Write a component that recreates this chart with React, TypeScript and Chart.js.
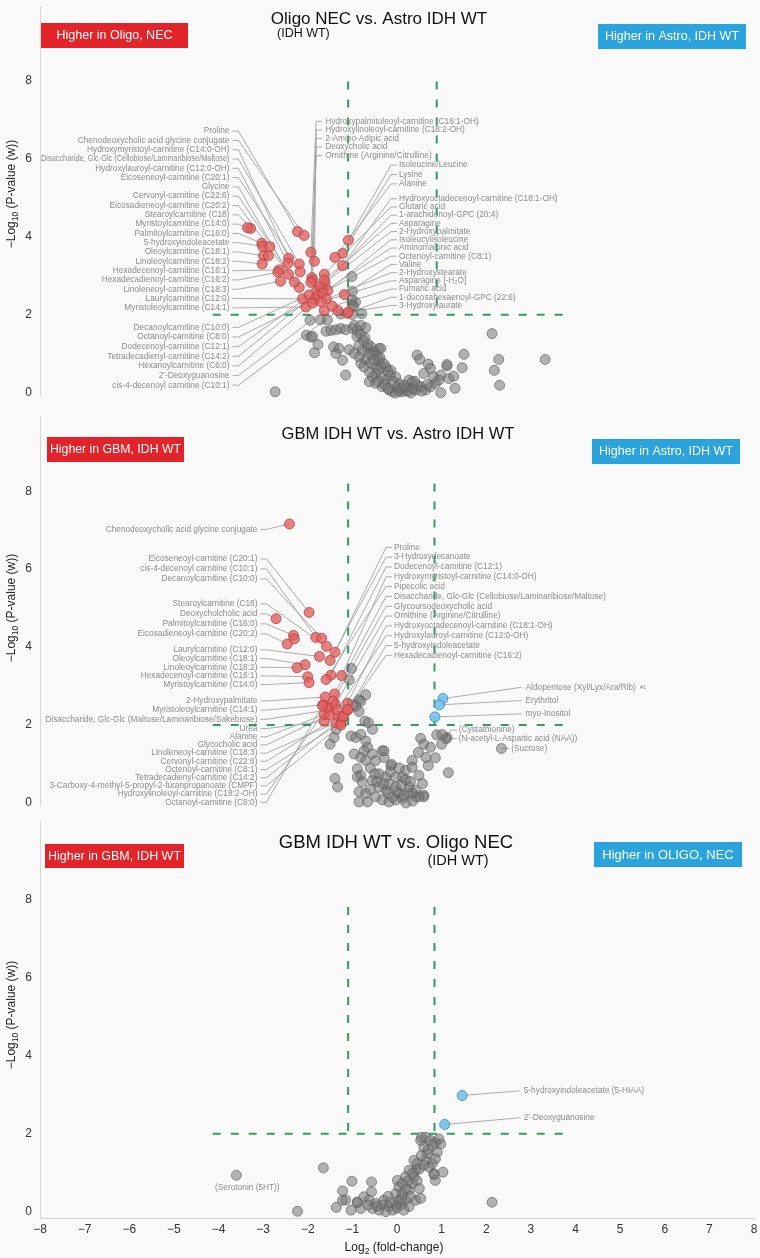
import React, { useEffect, useRef } from "react";
import { Chart, registerables } from "chart.js";
Chart.register(...registerables);

type Pt = [number, number];
type Lab = [string, number, number];

const FONT = '"Liberation Sans", Arial, Helvetica, sans-serif';

// ---------- axis ticks ----------
const X_TICKS = [-8, -7, -6, -5, -4, -3, -2, -1, 0, 1, 2, 3, 4, 5, 6, 7, 8];
const Y_TICKS = [0, 2, 4, 6, 8];

// ---------- thresholds ----------
const P_CUT = 2;
const H_FROM = -4.13;
const H_TO = 3.8;
const FC_LOW = -1.095;

// ================= PANEL 1 : Oligo NEC vs Astro IDH WT =================
const P1_LEFT_UPPER: Lab[] = [
  ["Proline", -2.23, 4.13],
  ["Chenodeoxycholic acid glycine conjugate", -2.08, 4.03],
  ["Hydroxymyristoyl-carnitine (C14:0-OH)", -2.43, 3.45],
  ["Disaccharide, Glc-Glc (Cellobiose/Laminaribiose/Maltose)", -2.19, 3.3],
  ["Hydroxylauroyl-carnitine (C12:0-OH)", -2.44, 3.32],
  ["Eicoseneoyl-carnitine (C20:1)", -2.17, 3.1],
  ["Glycine", -2.43, 3.04],
  ["Cervonyl-carnitine (C22:6)", -2.19, 2.7],
  ["Eicosadieneoyl-carnitine (C20:2)", -2.3, 2.84],
  ["Stearoylcarnitine (C18)", -3.28, 4.21],
  ["Myristoylcarnitine (C14:0)", -3.35, 4.23],
  ["Palmitoylcarnitine (C16:0)", -3.03, 3.83],
  ["5-hydroxyindoleacetate", -3.01, 3.75],
  ["Oleoylcarnitine (C18:1)", -2.99, 3.51],
  ["Linoleoylcarnitine (C18:2)", -3.02, 3.3],
  ["Hexadecenoyl-carnitine (C16:1)", -2.64, 3.15],
  ["Hexadecadienoyl-carnitine (C16:2)", -2.67, 3.09],
  ["Linoleneoyl-carnitine (C18:3)", -2.61, 2.86],
  ["Laurylcarnitine (C12:0)", -2.12, 2.41],
  ["Myristoleoylcarnitine (C14:1)", -2.04, 2.2],
];
const P1_LEFT_LOWER: Lab[] = [
  ["Decanoylcarnitine (C10:0)", -1.97, 2.51],
  ["Octanoyl-carnitine (C8:0)", -1.85, 2.39],
  ["Dodecenoyl-carnitine (C12:1)", -1.8, 2.62],
  ["Tetradecadienyl-carnitine (C14:2)", -1.67, 2.69],
  ["Hexanoylcarnitine (C6:0)", -1.9, 2.3],
  ["2'-Deoxyguanosine", -1.63, 2.11],
  ["cis-4-decenoyl carnitine (C10:1)", -1.33, 2.11],
];
const P1_TOP: Lab[] = [
  ["Hydroxypalmitoleoyl-carnitine (C16:1-OH)", -1.93, 3.6],
  ["Hydroxylinoleoyl-carnitine (C18:2-OH)", -1.85, 3.37],
  ["2-Amino-Adipic acid", -1.91, 2.95],
  ["Deoxycholic acid", -1.89, 2.89],
  ["Ornithine (Arginine/Citrulline)", -1.93, 2.83],
];
const P1_RIGHT_A: Lab[] = [
  ["Isoleucine/Leucine", -1.09, 3.91],
  ["Lysine", -1.22, 3.57],
  ["Alanine", -1.39, 3.47],
];
const P1_RIGHT_B: Lab[] = [
  ["Hydroxyoctadecenoyl-carnitine (C18:1-OH)", -1.22, 3.26],
  ["Glutaric acid", -1.63, 3.04],
  ["1-arachidonoyl-GPC (20:4)", -1.61, 2.81],
  ["Asparagine", -1.63, 2.89],
  ["2-Hydroxypalmitate", -1.72, 2.72],
  ["Isoleucylisoleucine", -1.55, 2.62],
  ["Aminomalonic acid", -1.76, 2.5],
  ["Octenoyl-carnitine (C8:1)", -1.66, 2.56],
  ["Valine", -1.18, 2.52],
  ["2-Hydroxystearate", -1.58, 2.4],
  ["Asparagine [-H\u2082O]", -1.7, 2.33],
  ["Fumaric acid", -1.45, 2.22],
  ["1-docosahexaenoyl-GPC (22:6)", -1.11, 2.04],
  ["3-Hydroxylaurate", -1.09, 2.07],
];
const P1_RED_EXTRA: Pt[] = [[-2.85, 3.74], [-2.88, 3.51]];
const P1_GRAY: Pt[] = [
  [-1.01, 2.98], [-1.0, 2.6], [-0.93, 2.33], [-1.0, 2.25], [-0.97, 2.22], [-0.79, 2.03], [-1.01, 2.39], [-1.26, 2.02], [-1.0, 2.01],
  [-1.95, 1.86], [-1.71, 1.87], [-1.56, 1.87],
  [-1.59, 1.58], [-1.48, 1.6], [-1.37, 1.62], [-1.26, 1.65], [-1.15, 1.62], [-1.0, 1.65], [-0.89, 1.6], [-0.96, 1.73], [-0.81, 1.73], [-0.7, 1.67],
  [-2.03, 1.48], [-1.93, 1.43], [-1.89, 1.45], [-1.77, 1.24], [-1.85, 1.03],
  [-1.42, 1.18], [-1.3, 1.14], [-1.37, 1.01], [-1.07, 1.11], [-1.22, 0.84], [-1.15, 0.46], [-2.73, 0.03],
  [-0.85, 1.22], [-0.78, 1.09], [-0.66, 1.14], [-0.55, 1.01], [-0.4, 1.14], [-0.7, 0.84], [-0.59, 0.76], [-0.48, 0.67], [-0.4, 0.84], [-0.81, 0.76], [-0.96, 1.01], [-0.36, 1.14],
  [-0.48, 0.5], [-0.36, 0.41], [-0.25, 0.33], [-0.33, 0.16], [-0.18, 0.08], [-0.1, 0.03], [-0.03, 0.0], [0.12, 0.03], [0.19, 0.08], [0.31, 0.0], [0.42, 0.08], [0.53, 0.16], [0.64, 0.08], [0.75, 0.16], [0.86, 0.25], [0.98, 0.01], [0.98, 0.46], [1.12, 0.69], [1.16, 0.37], [1.27, 0.43], [1.3, 0.12], [1.46, 0.65], [1.5, 0.99], [0.45, 0.97], [0.51, 0.86], [0.7, 0.74], [0.75, 0.63], [1.12, 0.73],
  [2.13, 1.52], [2.28, 0.86], [2.18, 0.58], [2.3, 0.2], [3.32, 0.86],
  [0.27, 0.33], [0.04, 0.25], [-0.03, 0.41], [-0.14, 0.58], [-0.25, 0.67], [-0.36, 0.67], [-0.55, 0.41], [-0.62, 0.54], [-0.74, 0.67], [-0.85, 0.93], [-0.62, 0.29], [-0.48, 0.25], [0.6, 0.5], [0.34, 0.29], [0.82, 0.41], [0.94, 0.33],
  [-0.75, 1.35], [-0.65, 1.25], [-0.58, 1.18], [-0.5, 1.05], [-0.45, 0.95], [-0.38, 0.9], [-0.3, 0.75], [-0.2, 0.55], [-0.15, 0.45], [-0.1, 0.3], [0.0, 0.15], [0.05, 0.05], [0.2, 0.15], [0.25, 0.05], [0.35, 0.12], [0.45, 0.2], [0.55, 0.05], [0.68, 0.22], [-0.42, 0.3], [-0.28, 0.22], [-0.2, 0.12],
  [-0.9, 1.45], [-0.82, 1.5], [-0.72, 1.42], [-0.62, 1.0], [-0.52, 0.85], [-0.4, 0.6], [0.1, 0.12], [0.4, 0.3], [0.15, 0.2],
];

// ================= PANEL 2 : GBM IDH WT vs Astro IDH WT =================
const P2_CHENO: Lab[] = [["Chenodeoxycholic acid glycine conjugate", -2.41, 7.16]];
const P2_LEFT_A: Lab[] = [
  ["Eicoseneoyl-carnitine (C20:1)", -1.97, 4.89],
  ["cis-4-decenoyl carnitine (C10:1)", -1.82, 4.25],
  ["Decanoylcarnitine (C10:0)", -1.69, 4.23],
];
const P2_LEFT_B: Lab[] = [
  ["Stearoylcarnitine (C18)", -1.58, 4.02],
  ["Deoxycholcholic acid", -2.71, 4.73],
  ["Palmitoylcarnitine (C16:0)", -2.32, 4.3],
  ["Eicosadieneoyl-carnitine (C20:2)", -2.46, 4.08],
];
const P2_LEFT_C: Lab[] = [
  ["Laurylcarnitine (C12:0)", -1.74, 3.76],
  ["Oleoylcarnitine (C18:1)", -2.06, 3.55],
  ["Linoleoylcarnitine (C18:2)", -2.24, 3.47],
  ["Hexadecenoyl-carnitine (C16:1)", -2.0, 3.24],
  ["Myristoylcarnitine (C14:0)", -1.97, 3.09],
];
const P2_LEFT_D: Lab[] = [
  ["2-Hydroxypalmitate", -1.61, 2.72],
  ["Myristoleoylcarnitine (C14:1)", -1.65, 2.52],
  ["Disaccharide, Glc-Glc (Maltose/Laminaribiose/Sakebiose)", -1.52, 2.39],
];
const P2_LEFT_E: Lab[] = [
  ["Urea", -1.63, 2.1],
  ["Alanine", -1.63, 2.27],
  ["Glycocholic acid", -1.52, 2.27],
  ["Linoleneoyl-carnitine (C18:3)", -1.37, 2.06],
  ["Cervonyl-carnitine (C22:6)", -1.31, 2.23],
  ["Octenoyl-carnitine (C8:1)", -1.25, 2.06],
  ["Tetradecadienyl-carnitine (C14:2)", -1.22, 2.19],
  ["3-Carboxy-4-methyl-5-propyl-2-furanpropanoate (CMPF)", -1.26, 2.0],
  ["Hydroxylinoleoyl-carnitine (C18:2-OH)", -1.56, 2.46],
  ["Octanoyl-carnitine (C8:0)", -1.67, 2.5],
];
const P2_RIGHT: Lab[] = [
  ["Proline", -1.39, 3.87],
  ["3-Hydroxydecanoate", -1.5, 3.66],
  ["Dodecenoyl-carnitine (C12:1)", -1.48, 3.28],
  ["Hydroxymyristoyl-carnitine (C14:0-OH)", -1.24, 3.27],
  ["Pipecolic acid", -1.59, 3.17],
  ["Disaccharide, Glc-Glc (Cellobiose/Laminaribiose/Maltose)", -1.4, 2.8],
  ["Glycoursodeoxycholic acid", -1.43, 2.62],
  ["Ornithine (Arginine/Citrulline)", -1.38, 2.52],
  ["Hydroxyoctadecenoyl-carnitine (C18:1-OH)", -1.11, 2.56],
  ["Hydroxylauroyl-carnitine (C12:0-OH)", -1.33, 2.39],
  ["5-hydroxyindoleacetate", -1.1, 2.39],
  ["Hexadecadienoyl-carnitine (C16:2)", -1.2, 2.23],
];
const P2_RED_EXTRA: Pt[] = [[-2.3, 4.21], [-1.11, 2.4]];
const P2_BLUE: Lab[] = [
  ["Aldopentose (Xyl/Lyx/Ara/Rib)|#1", 1.03, 2.68],
  ["Erythritol", 0.95, 2.52],
  ["myo-Inositol", 0.85, 2.21],
];
const P2_GRAY_LAB: Lab[] = [
  ["(Cystathionine)", 1.12, 1.68],
  ["(N-acetyl-L-Aspartic acid (NAA))", 1.1, 1.65],
];
const P2_SUCROSE: Lab[] = [["(Sucrose)", 2.34, 1.4]];
const P2_GRAY: Pt[] = [
  [-1.02, 3.45], [-1.07, 3.16], [-0.7, 2.78], [-0.85, 2.65], [-0.81, 2.61], [-0.92, 2.48], [-0.99, 2.52], [-0.85, 2.35], [-0.72, 2.1], [-0.64, 2.06], [-0.55, 1.89],
  [-1.36, 1.89], [-1.41, 1.68], [-1.5, 1.51],
  [-1.03, 1.72], [-0.92, 1.68], [-0.81, 1.76], [-0.7, 1.59], [-0.66, 1.43], [-0.74, 1.34], [-0.96, 1.26], [-0.81, 1.17], [-0.7, 1.09], [-0.55, 1.26], [-0.48, 1.09], [-0.33, 1.34], [-0.29, 1.17], [-0.14, 0.96],
  [-1.3, 1.15], [-1.39, 0.63], [-1.33, 0.41],
  [-0.89, 0.88], [-0.81, 0.71], [-0.89, 0.67], [-0.78, 0.54], [-0.85, 0.29], [-0.7, 0.25], [-0.85, 0.03], [-0.66, 0.03], [-0.48, 0.16], [-0.33, 0.08], [-0.18, 0.03], [-0.03, 0.08], [0.12, 0.12], [0.27, 0.25], [0.42, 0.33], [0.57, 0.5], [0.6, 0.2], [0.42, 0.16], [0.27, 0.41], [0.12, 0.67], [0.19, 0.84], [0.34, 1.09],
  [0.53, 1.66], [0.6, 1.51], [0.75, 1.43], [1.0, 1.51], [0.89, 1.75], [1.01, 1.76], [0.48, 1.3], [0.65, 1.17], [0.7, 0.96], [0.86, 1.16], [1.15, 0.78], [0.34, 0.92], [0.49, 0.71], [0.6, 0.16], [0.49, 0.16], [-0.29, 1.34], [-0.12, 0.99],
  [-0.03, 0.67], [-0.18, 0.5], [-0.25, 0.33], [-0.4, 0.41], [-0.55, 0.58], [-0.4, 0.75], [-0.25, 0.67], [-0.03, 0.41], [0.05, 0.25],
  [-0.6, 0.9], [-0.5, 0.75], [-0.45, 0.55], [-0.3, 0.5], [-0.2, 0.25], [-0.1, 0.15], [0.0, 0.3], [0.1, 0.45], [0.2, 0.6], [0.3, 0.55], [0.35, 0.25], [-0.6, 0.35], [-0.15, 0.8], [0.05, 0.9], [0.2, 0.0], [0.35, 0.05], [0.15, 0.2],
];

// ================= PANEL 3 : GBM IDH WT vs Oligo NEC =================
const P3_BLUE: Lab[] = [
  ["5-hydroxyindoleacetate (5-HIAA)", 1.46, 2.98],
  ["2'-Deoxyguanosine", 1.07, 2.24],
];
const P3_SEROTONIN: Lab[] = [["(Serotonin (5HT))", -3.6, 0.94]];
const P3_GRAY: Pt[] = [
  [-1.65, 1.13], [-2.23, 0.02], [-1.01, 0.79], [-1.22, 0.54], [-1.22, 0.3], [-1.15, 0.31], [-1.36, 0.12], [-1.03, 0.05], [-0.89, 0.24], [-0.57, 0.77], [-0.57, 0.52], [2.13, 0.25],
  [-0.74, 0.39], [-0.63, 0.3], [-0.48, 0.22], [-0.33, 0.18], [-0.18, 0.14], [-0.03, 0.18], [-0.4, 0.05], [-0.25, 0.01], [-0.1, 0.05], [-0.55, 0.09], [-0.81, 0.09], [-0.89, 0.26],
  [0.01, 0.81], [0.04, 0.64], [0.12, 0.47], [0.19, 0.3], [0.27, 0.56], [0.34, 0.73], [0.38, 0.9], [0.42, 1.07], [0.45, 1.24], [0.38, 1.32], [0.27, 1.07], [0.19, 0.9], [0.12, 0.73], [-0.03, 0.47], [0.04, 0.3], [0.27, 0.14], [0.42, 0.3], [0.53, 0.35],
  [0.64, 1.32], [0.68, 1.49], [0.6, 1.66], [0.53, 1.83], [0.64, 1.91], [0.75, 1.83], [0.86, 1.78], [0.94, 1.87], [0.98, 1.74], [0.9, 1.53], [0.86, 1.36], [0.79, 1.24], [0.72, 1.15], [0.83, 0.98], [0.86, 0.81], [1.03, 1.02], [0.55, 1.91], [0.83, 0.96],
  [-0.3, 0.3], [-0.15, 0.25], [0.0, 0.1], [0.1, 0.2], [0.15, 0.05], [-0.45, 0.15], [-0.65, 0.18], [0.2, 0.6], [0.3, 0.4], [0.25, 0.8], [0.35, 1.0], [0.45, 0.8], [0.5, 1.1], [0.55, 1.45], [0.7, 1.6], [0.8, 1.7], [0.6, 1.2], [0.5, 0.6], [-0.2, 0.4], [0.1, 0.35],
];

// ---------- styles ----------
const GREEN = "#2f9e5f";
const AXIS = "#d6d6d6";
const RED_BOX = "#e3232a";
const BLUE_BOX = "#2ba3dc";
const LABEL_COLOR = "#8c8c8c";
const LEADER_COLOR = "#a3a3a3";
const COLORS: Record<string, { bg: string; bd: string }> = {
  red: { bg: "rgba(222,96,96,0.78)", bd: "rgba(185,55,55,0.75)" },
  blue: { bg: "rgba(118,194,232,0.9)", bd: "rgba(60,140,195,0.85)" },
  gray: { bg: "rgba(118,118,118,0.55)", bd: "rgba(85,85,85,0.6)" },
};

interface Group {
  items: Lab[];
  color: "red" | "blue" | "gray";
  side: "left" | "right" | "top" | "below";
  x: number;
  y0: number;
  y1: number;
  tick: boolean;
}
interface Box { text: string; x0: number; x1: number; y0: number; y1: number; fill: string }
interface PanelCfg {
  top: number;
  height: number;
  yMin: number;
  yMax: number;
  padTop: number;
  padBottom: number;
  showX: boolean;
  vHigh: number;
  vTop: number;
  gray: Pt[];
  redExtra: Pt[];
  groups: Group[];
  title: string;
  titleSize: number;
  titleX: number;
  titleY: number;
  sub?: { text: string; size: number; x: number; y: number; align: CanvasTextAlign };
  boxes: Box[];
  boxFont: number;
  yTitleY: number;
}

const PANELS: PanelCfg[] = [
  {
    top: 0, height: 410, yMin: -0.05, yMax: 9.9, padTop: 3, padBottom: 15, showX: false,
    vHigh: 0.89, vTop: 7.97,
    gray: P1_GRAY, redExtra: P1_RED_EXTRA,
    groups: [
      { items: P1_LEFT_UPPER, color: "red", side: "left", x: -3.754, y0: 6.7, y1: 2.18, tick: true },
      { items: P1_LEFT_LOWER, color: "red", side: "left", x: -3.754, y0: 1.68, y1: 0.2, tick: true },
      { items: P1_TOP, color: "red", side: "top", x: -1.61, y0: 6.95, y1: 6.07, tick: true },
      { items: P1_RIGHT_A, color: "red", side: "right", x: 0.045, y0: 5.83, y1: 5.35, tick: true },
      { items: P1_RIGHT_B, color: "red", side: "right", x: 0.045, y0: 4.97, y1: 2.24, tick: true },
    ],
    title: "Oligo NEC vs. Astro IDH WT", titleSize: 17, titleX: 379, titleY: 24,
    sub: { text: "(IDH WT)", size: 12.5, x: 277, y: 37, align: "left" },
    boxes: [
      { text: "Higher in Oligo, NEC", x0: 41, x1: 188, y0: 23, y1: 48, fill: RED_BOX },
      { text: "Higher in Astro, IDH WT", x0: 598, x1: 746, y0: 24, y1: 49, fill: BLUE_BOX },
    ],
    boxFont: 12.5,
    yTitleY: 194,
  },
  {
    top: 410, height: 405, yMin: -0.05, yMax: 9.93, padTop: 2, padBottom: 10, showX: false,
    vHigh: 0.84, vTop: 8.2,
    gray: P2_GRAY, redExtra: P2_RED_EXTRA,
    groups: [
      { items: P2_CHENO, color: "red", side: "left", x: -3.128, y0: 7.02, y1: 7.02, tick: true },
      { items: P2_LEFT_A, color: "red", side: "left", x: -3.128, y0: 6.26, y1: 5.75, tick: true },
      { items: P2_LEFT_B, color: "red", side: "left", x: -3.128, y0: 5.11, y1: 4.34, tick: true },
      { items: P2_LEFT_C, color: "red", side: "left", x: -3.128, y0: 3.93, y1: 3.04, tick: true },
      { items: P2_LEFT_D, color: "red", side: "left", x: -3.128, y0: 2.62, y1: 2.15, tick: true },
      { items: P2_LEFT_E, color: "red", side: "left", x: -3.128, y0: 1.91, y1: 0.02, tick: true },
      { items: P2_RIGHT, color: "red", side: "right", x: -0.067, y0: 6.56, y1: 3.79, tick: true },
      { items: P2_BLUE, color: "blue", side: "right", x: 2.88, y0: 2.97, y1: 2.29, tick: false },
      { items: P2_GRAY_LAB, color: "gray", side: "right", x: 1.385, y0: 1.87, y1: 1.65, tick: true },
      { items: P2_SUCROSE, color: "gray", side: "right", x: 2.56, y0: 1.4, y1: 1.4, tick: true },
    ],
    title: "GBM IDH WT vs. Astro IDH WT", titleSize: 16.5, titleX: 398, titleY: 29,
    boxes: [
      { text: "Higher in GBM, IDH WT", x0: 47, x1: 184, y0: 27, y1: 52, fill: RED_BOX },
      { text: "Higher in Astro, IDH WT", x0: 592, x1: 740, y0: 29, y1: 54, fill: BLUE_BOX },
    ],
    boxFont: 12.5,
    yTitleY: 198,
  },
  {
    top: 815, height: 443, yMin: -0.152, yMax: 10.0, padTop: 3, padBottom: 0, showX: true,
    vHigh: 0.84, vTop: 7.8,
    gray: P3_GRAY, redExtra: [],
    groups: [
      { items: P3_BLUE, color: "blue", side: "right", x: 2.84, y0: 3.1, y1: 2.41, tick: false },
      { items: P3_SEROTONIN, color: "gray", side: "below", x: -3.6, y0: 0.94, y1: 0.94, tick: false },
    ],
    title: "GBM IDH WT vs. Oligo NEC", titleSize: 18.5, titleX: 396, titleY: 33,
    sub: { text: "(IDH WT)", size: 14.5, x: 458, y: 50, align: "center" },
    boxes: [
      { text: "Higher in GBM, IDH WT", x0: 45, x1: 184, y0: 29, y1: 53, fill: RED_BOX },
      { text: "Higher in OLIGO, NEC", x0: 594, x1: 742, y0: 27, y1: 52, fill: BLUE_BOX },
    ],
    boxFont: 13,
    yTitleY: 200,
  },
];

const fmt = (v: number) => String(v).replace("-", "\u2212");

function drawRich(ctx: CanvasRenderingContext2D, parts: Array<[string, number, number]>, x: number, y: number) {
  const widths = parts.map(([t, s]) => {
    ctx.font = `${s}px ${FONT}`;
    return ctx.measureText(t).width;
  });
  const total = widths.reduce((a, b) => a + b, 0);
  let cx = x - total / 2;
  ctx.textAlign = "left";
  ctx.textBaseline = "alphabetic";
  parts.forEach(([t, s, dy], i) => {
    ctx.font = `${s}px ${FONT}`;
    ctx.fillText(t, cx, y + dy);
    cx += widths[i];
  });
}

function labelPos(g: Group, i: number) {
  const n = g.items.length;
  return n === 1 ? g.y0 : g.y0 + ((g.y1 - g.y0) * i) / (n - 1);
}

function makePlugin(cfg: PanelCfg) {
  return {
    id: "annot",
    beforeDatasetsDraw(chart: any) {
      const { ctx } = chart;
      const xs = chart.scales.x;
      const ys = chart.scales.y;
      ctx.save();
      ctx.strokeStyle = LEADER_COLOR;
      ctx.lineWidth = 0.9;
      cfg.groups.forEach((g) => {
        if (g.side === "below") return;
        g.items.forEach((it, i) => {
          const tx = xs.getPixelForValue(g.x);
          const ty = ys.getPixelForValue(labelPos(g, i));
          const px = xs.getPixelForValue(it[1]);
          const py = ys.getPixelForValue(it[2]);
          ctx.beginPath();
          if (g.side === "left") {
            ctx.moveTo(tx + 3, ty);
            ctx.lineTo(tx + 9, ty);
          } else if (g.side === "right") {
            if (g.tick) {
              ctx.moveTo(tx - 2, ty);
              ctx.lineTo(tx - 8, ty);
            } else {
              ctx.moveTo(tx - 4, ty);
            }
          } else {
            ctx.moveTo(tx - 3, ty);
            ctx.lineTo(tx - 9, ty);
          }
          ctx.lineTo(px, py);
          ctx.stroke();
        });
      });
      ctx.restore();
    },
    afterDatasetsDraw(chart: any) {
      const { ctx } = chart;
      const xs = chart.scales.x;
      const ys = chart.scales.y;
      ctx.save();
      ctx.fillStyle = LABEL_COLOR;
      ctx.textBaseline = "middle";
      cfg.groups.forEach((g) => {
        g.items.forEach((it, i) => {
          const tx = xs.getPixelForValue(g.x);
          const ty = ys.getPixelForValue(labelPos(g, i));
          const [main, suffix] = it[0].split("|");
          ctx.font = `8.3px ${FONT}`;
          if (g.side === "left") {
            ctx.textAlign = "right";
            ctx.fillText(main, tx, ty, tx - 41);
          } else if (g.side === "below") {
            ctx.textAlign = "center";
            const px = xs.getPixelForValue(it[1]);
            const py = ys.getPixelForValue(it[2]);
            ctx.fillText(main, px + 11, py + 12);
          } else {
            ctx.textAlign = "left";
            ctx.fillText(main, tx, ty);
            if (suffix) {
              const w = ctx.measureText(main).width;
              ctx.font = `5.5px ${FONT}`;
              ctx.fillText(suffix, tx + w + 4, ty + 0.5);
            }
          }
        });
      });
      ctx.restore();
    },
    afterDraw(chart: any) {
      const { ctx } = chart;
      ctx.save();
      ctx.fillStyle = "#111";
      ctx.font = `${cfg.titleSize}px ${FONT}`;
      ctx.textAlign = "center";
      ctx.textBaseline = "alphabetic";
      ctx.fillText(cfg.title, cfg.titleX, cfg.titleY);
      if (cfg.sub) {
        ctx.font = `${cfg.sub.size}px ${FONT}`;
        ctx.textAlign = cfg.sub.align;
        ctx.fillText(cfg.sub.text, cfg.sub.x, cfg.sub.y);
      }
      cfg.boxes.forEach((b) => {
        ctx.fillStyle = b.fill;
        ctx.fillRect(b.x0, b.y0, b.x1 - b.x0, b.y1 - b.y0);
        ctx.fillStyle = "#fff";
        ctx.font = `${cfg.boxFont}px ${FONT}`;
        ctx.textAlign = "center";
        ctx.textBaseline = "middle";
        ctx.fillText(b.text, (b.x0 + b.x1) / 2, (b.y0 + b.y1) / 2 + 0.5, b.x1 - b.x0 - 6);
      });
      ctx.fillStyle = "#222";
      ctx.save();
      ctx.translate(15, cfg.yTitleY);
      ctx.rotate(-Math.PI / 2);
      drawRich(ctx, [["\u2212Log", 12, 0], ["10", 8.5, 3], [" (P-value (w))", 12, 0]], 0, 0);
      ctx.restore();
      if (cfg.showX) {
        ctx.fillStyle = "#222";
        drawRich(ctx, [["Log", 12, 0], ["2", 8.5, 3], [" (fold-change)", 12, 0]], 394, chart.chartArea.bottom + 33);
      }
      ctx.restore();
    },
  };
}

function buildDatasets(cfg: PanelCfg) {
  const byColor: Record<string, { x: number; y: number }[]> = { red: [], blue: [], gray: [] };
  cfg.groups.forEach((g) => g.items.forEach((it) => byColor[g.color].push({ x: it[1], y: it[2] })));
  cfg.redExtra.forEach(([x, y]) => byColor.red.push({ x, y }));
  cfg.gray.forEach(([x, y]) => byColor.gray.push({ x, y }));
  const pointDs = (key: string, order: number) => ({
    type: "scatter",
    data: byColor[key],
    backgroundColor: COLORS[key].bg,
    borderColor: COLORS[key].bd,
    borderWidth: 1,
    pointRadius: 5,
    order,
    clip: false,
  });
  const lineDs = (data: { x: number; y: number }[]) => ({
    type: "line",
    data,
    showLine: true,
    borderColor: GREEN,
    borderWidth: 2,
    borderDash: [8, 10],
    pointRadius: 0,
    fill: false,
    order: 10,
    clip: false,
  });
  return [
    pointDs("blue", 0),
    pointDs("red", 1),
    pointDs("gray", 2),
    lineDs([{ x: H_FROM, y: P_CUT }, { x: H_TO, y: P_CUT }]),
    lineDs([{ x: FC_LOW, y: cfg.vTop }, { x: FC_LOW, y: P_CUT }]),
    lineDs([{ x: cfg.vHigh, y: cfg.vTop }, { x: cfg.vHigh, y: P_CUT }]),
  ];
}

function Panel({ cfg }: { cfg: PanelCfg }) {
  const ref = useRef<HTMLCanvasElement>(null);
  useEffect(() => {
    const canvas = ref.current;
    if (!canvas) return;
    const tickFont = { size: 12, family: FONT };
    const chart = new Chart(canvas, {
      type: "scatter",
      data: { datasets: buildDatasets(cfg) as any },
      options: {
        responsive: false,
        animation: false,
        devicePixelRatio: 1,
        layout: { padding: { left: 0, right: 4, top: cfg.padTop, bottom: cfg.padBottom } },
        plugins: { legend: { display: false }, tooltip: { enabled: false }, title: { display: false } },
        scales: {
          x: {
            type: "linear",
            min: -8,
            max: 8,
            display: cfg.showX,
            grid: { display: false, drawTicks: false },
            border: { display: true, color: AXIS, width: 1 },
            ticks: { padding: 4, font: tickFont, color: "#333", callback: (v: any) => fmt(v) },
            afterBuildTicks: (s: any) => {
              s.ticks = X_TICKS.map((v) => ({ value: v }));
            },
            afterFit: (s: any) => {
              s.height = cfg.showX ? 40 : 0;
              s.paddingLeft = 0;
              s.paddingRight = 0;
            },
          },
          y: {
            type: "linear",
            min: cfg.yMin,
            max: cfg.yMax,
            grid: { display: false, drawTicks: false },
            border: { display: true, color: AXIS, width: 1 },
            ticks: { padding: 8, font: tickFont, color: "#333", callback: (v: any) => fmt(v) },
            afterBuildTicks: (s: any) => {
              s.ticks = Y_TICKS.map((v) => ({ value: v }));
            },
            afterFit: (s: any) => {
              s.width = 40;
              s.paddingTop = 0;
              s.paddingBottom = 0;
            },
          },
        },
      } as any,
      plugins: [makePlugin(cfg)],
    });
    return () => chart.destroy();
  }, [cfg]);
  return (
    <canvas
      ref={ref}
      width={760}
      height={cfg.height}
      style={{ position: "absolute", left: 0, top: cfg.top, width: 760, height: cfg.height }}
    />
  );
}

export default function App() {
  useEffect(() => {
    document.body.style.margin = "0";
    document.body.style.background = "#f9f9f9";
  }, []);
  return (
    <div style={{ position: "relative", width: 760, height: 1258, background: "#f9f9f9", overflow: "hidden" }}>
      {PANELS.map((p, i) => (
        <Panel key={i} cfg={p} />
      ))}
    </div>
  );
}
